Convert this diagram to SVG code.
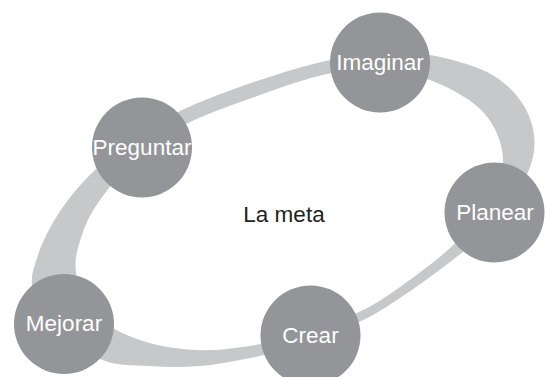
<svg xmlns="http://www.w3.org/2000/svg" width="545" height="377" viewBox="0 0 545 377">
<style>
.node circle{fill:#939598}
.node text{fill:#ffffff;font-family:"Liberation Sans",Arial,sans-serif;font-size:22.5px;text-anchor:middle}
.center{fill:#231f20;font-family:"Liberation Sans",Arial,sans-serif;font-size:22.5px;text-anchor:middle}
.ring{fill:#c7c8ca;fill-rule:evenodd}
</style>
<rect width="545" height="377" fill="#ffffff"/>
<g id="connectors">
<path class="ring" d="M32,285 C30.83,274.17 35,264.5 38,255 C41,245.5 45,237.17 50,228 C55,218.83 60.5,209.67 68,200 C75.5,190.33 84.67,179.67 95,170 C105.33,160.33 115.83,151.83 130,142 C144.17,132.17 158.33,121.33 180,111 C201.67,100.67 235,88.5 260,80 C285,71.5 310,64.5 330,60 C350,55.5 363.33,53.83 380,53 C396.67,52.17 412.17,51.83 430,55 C447.83,58.17 472,64.5 487,72 C502,79.5 512.17,89.5 520,100 C527.83,110.5 532.67,123 534,135 C535.33,147 534.17,157.5 528,172 C521.83,186.5 510,207 497,222 C484,237 466.17,249.33 450,262 C433.83,274.67 415,288.08 400,298 C385,307.92 376.67,313.67 360,321.5 C343.33,329.33 318.33,338.92 300,345 C281.67,351.08 266.67,354.5 250,358 C233.33,361.5 216.67,364.67 200,366 C183.33,367.33 166.67,367.17 150,366 C133.33,364.83 117.5,366.67 100,359 C82.5,351.33 56.33,332.33 45,320 C33.67,307.67 33.17,295.83 32,285 Z M76,272 C73.83,258.67 78.33,246.5 82,235 C85.67,223.5 90,214.67 98,203 C106,191.33 116.33,177.67 130,165 C143.67,152.33 158.33,138.67 180,127 C201.67,115.33 235.5,103.83 260,95 C284.5,86.17 307,78.17 327,74 C347,69.83 362,68.67 380,70 C398,71.33 417.67,74.83 435,82 C452.33,89.17 472.67,100.33 484,113 C495.33,125.67 502,142.67 503,158 C504,173.33 498.83,190 490,205 C481.17,220 465,234.33 450,248 C435,261.67 415,276.42 400,287 C385,297.58 376.67,303.67 360,311.5 C343.33,319.33 318.33,328.25 300,334 C281.67,339.75 267.5,343.33 250,346 C232.5,348.67 213.33,351 195,350 C176.67,349 156.67,345.83 140,340 C123.33,334.17 105.67,326.33 95,315 C84.33,303.67 78.17,285.33 76,272 Z"/>
</g>
<text class="center" x="284" y="222">La meta</text>
<g id="imaginar" class="node"><circle cx="380" cy="62.5" r="50"/><text x="380" y="70">Imaginar</text></g>
<g id="preguntar" class="node"><circle cx="142" cy="147.5" r="50"/><text x="142" y="155">Preguntar</text></g>
<g id="planear" class="node"><circle cx="494.5" cy="212.5" r="50"/><text x="495" y="220">Planear</text></g>
<g id="crear" class="node"><circle cx="310.5" cy="335.5" r="50"/><text x="310.5" y="343">Crear</text></g>
<g id="mejorar" class="node"><circle cx="64" cy="324" r="50"/><text x="64" y="331">Mejorar</text></g>
</svg>
